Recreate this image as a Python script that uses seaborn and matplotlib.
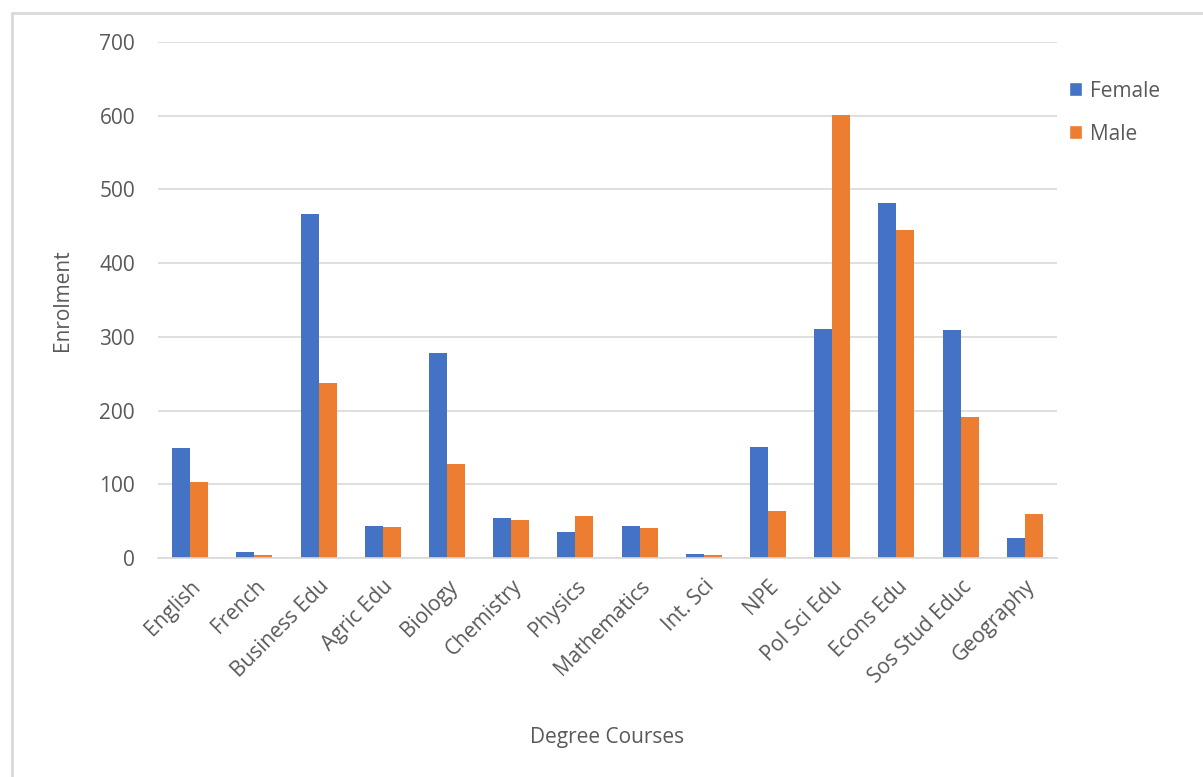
import matplotlib
matplotlib.use("Agg")
import matplotlib.pyplot as plt
import seaborn as sns
import pandas as pd
from matplotlib.lines import Line2D
from matplotlib.patches import Patch

courses = ["English", "French", "Business Edu", "Agric Edu", "Biology", "Chemistry",
           "Physics", "Mathematics", "Int. Sci", "NPE", "Pol Sci Edu", "Econs Edu",
           "Sos Stud Educ", "Geography"]
female = [149, 8, 467, 44, 278, 54, 35, 43, 5, 151, 311, 481, 309, 27]
male = [103, 4, 237, 42, 128, 52, 57, 41, 4, 64, 601, 445, 191, 60]
y_ticks = [0, 100, 200, 300, 400, 500, 600, 700]

df = pd.DataFrame({
    "Course": courses * 2,
    "Enrolment": female + male,
    "Gender": ["Female"] * len(courses) + ["Male"] * len(courses),
})

sns.set_theme(style="white")
plt.rcParams["font.family"] = ["Open Sans", "DejaVu Sans"]

text_color = "#595959"
grid_color = "#D9D9D9"
palette = {"Female": "#4472C4", "Male": "#ED7D31"}

fig = plt.figure(figsize=(12.03, 7.77), dpi=100)
ax = fig.add_axes([158 / 1203, 1 - 558 / 777, (1057 - 158) / 1203, (558 - 42) / 777])

sns.barplot(data=df, x="Course", y="Enrolment", hue="Gender", palette=palette,
            width=0.56, ax=ax, legend=False, saturation=1, linewidth=0)

ax.set_ylim(0, 700)
ax.set_xlim(-0.5, len(courses) - 0.5)
ax.set_yticks(y_ticks)
ax.set_yticklabels([str(v) for v in y_ticks], fontsize=15, color=text_color)
ax.yaxis.grid(True, color=grid_color, linewidth=1.2)
ax.set_axisbelow(True)
for side in ["top", "right", "left"]:
    ax.spines[side].set_visible(False)
ax.spines["bottom"].set_color(grid_color)
ax.spines["bottom"].set_linewidth(1.2)
ax.tick_params(axis="both", length=0)
ax.tick_params(axis="y", pad=16.5)

ax.set_xticks(range(len(courses)))
ax.set_xticklabels(courses, rotation=45, ha="right", rotation_mode="anchor",
                   fontsize=15, color=text_color)
ax.tick_params(axis="x", pad=13)

ax.set_xlabel("Degree Courses", fontsize=15, color=text_color)
ax.set_ylabel("Enrolment", fontsize=15, color=text_color)
ax.xaxis.set_label_coords((607 - 158) / (1057 - 158), -(737 - 558) / (558 - 42))
ax.yaxis.set_label_coords(-(158 - 63) / (1057 - 158), (558 - 300) / (558 - 42))
ax.xaxis.label.set_va("center")
ax.yaxis.label.set_va("center")

handles = [Patch(facecolor=palette["Female"], label="Female"),
           Patch(facecolor=palette["Male"], label="Male")]
leg = fig.legend(handles=handles, loc="upper left",
                 bbox_to_anchor=(1050 / 1203, 1 - 62 / 777), frameon=False,
                 fontsize=15, handlelength=0.65, handleheight=0.65,
                 labelspacing=1.05, handletextpad=0.35)
for t in leg.get_texts():
    t.set_color(text_color)

# chart frame
fig.add_artist(Line2D([12 / 1203, 12 / 1203], [0, 1 - 13 / 777],
                      transform=fig.transFigure, color="#D9D9D9", linewidth=2))
fig.add_artist(Line2D([12 / 1203, 1], [1 - 13 / 777, 1 - 13 / 777],
                      transform=fig.transFigure, color="#D9D9D9", linewidth=2))

fig.savefig("out.png", dpi=100)
